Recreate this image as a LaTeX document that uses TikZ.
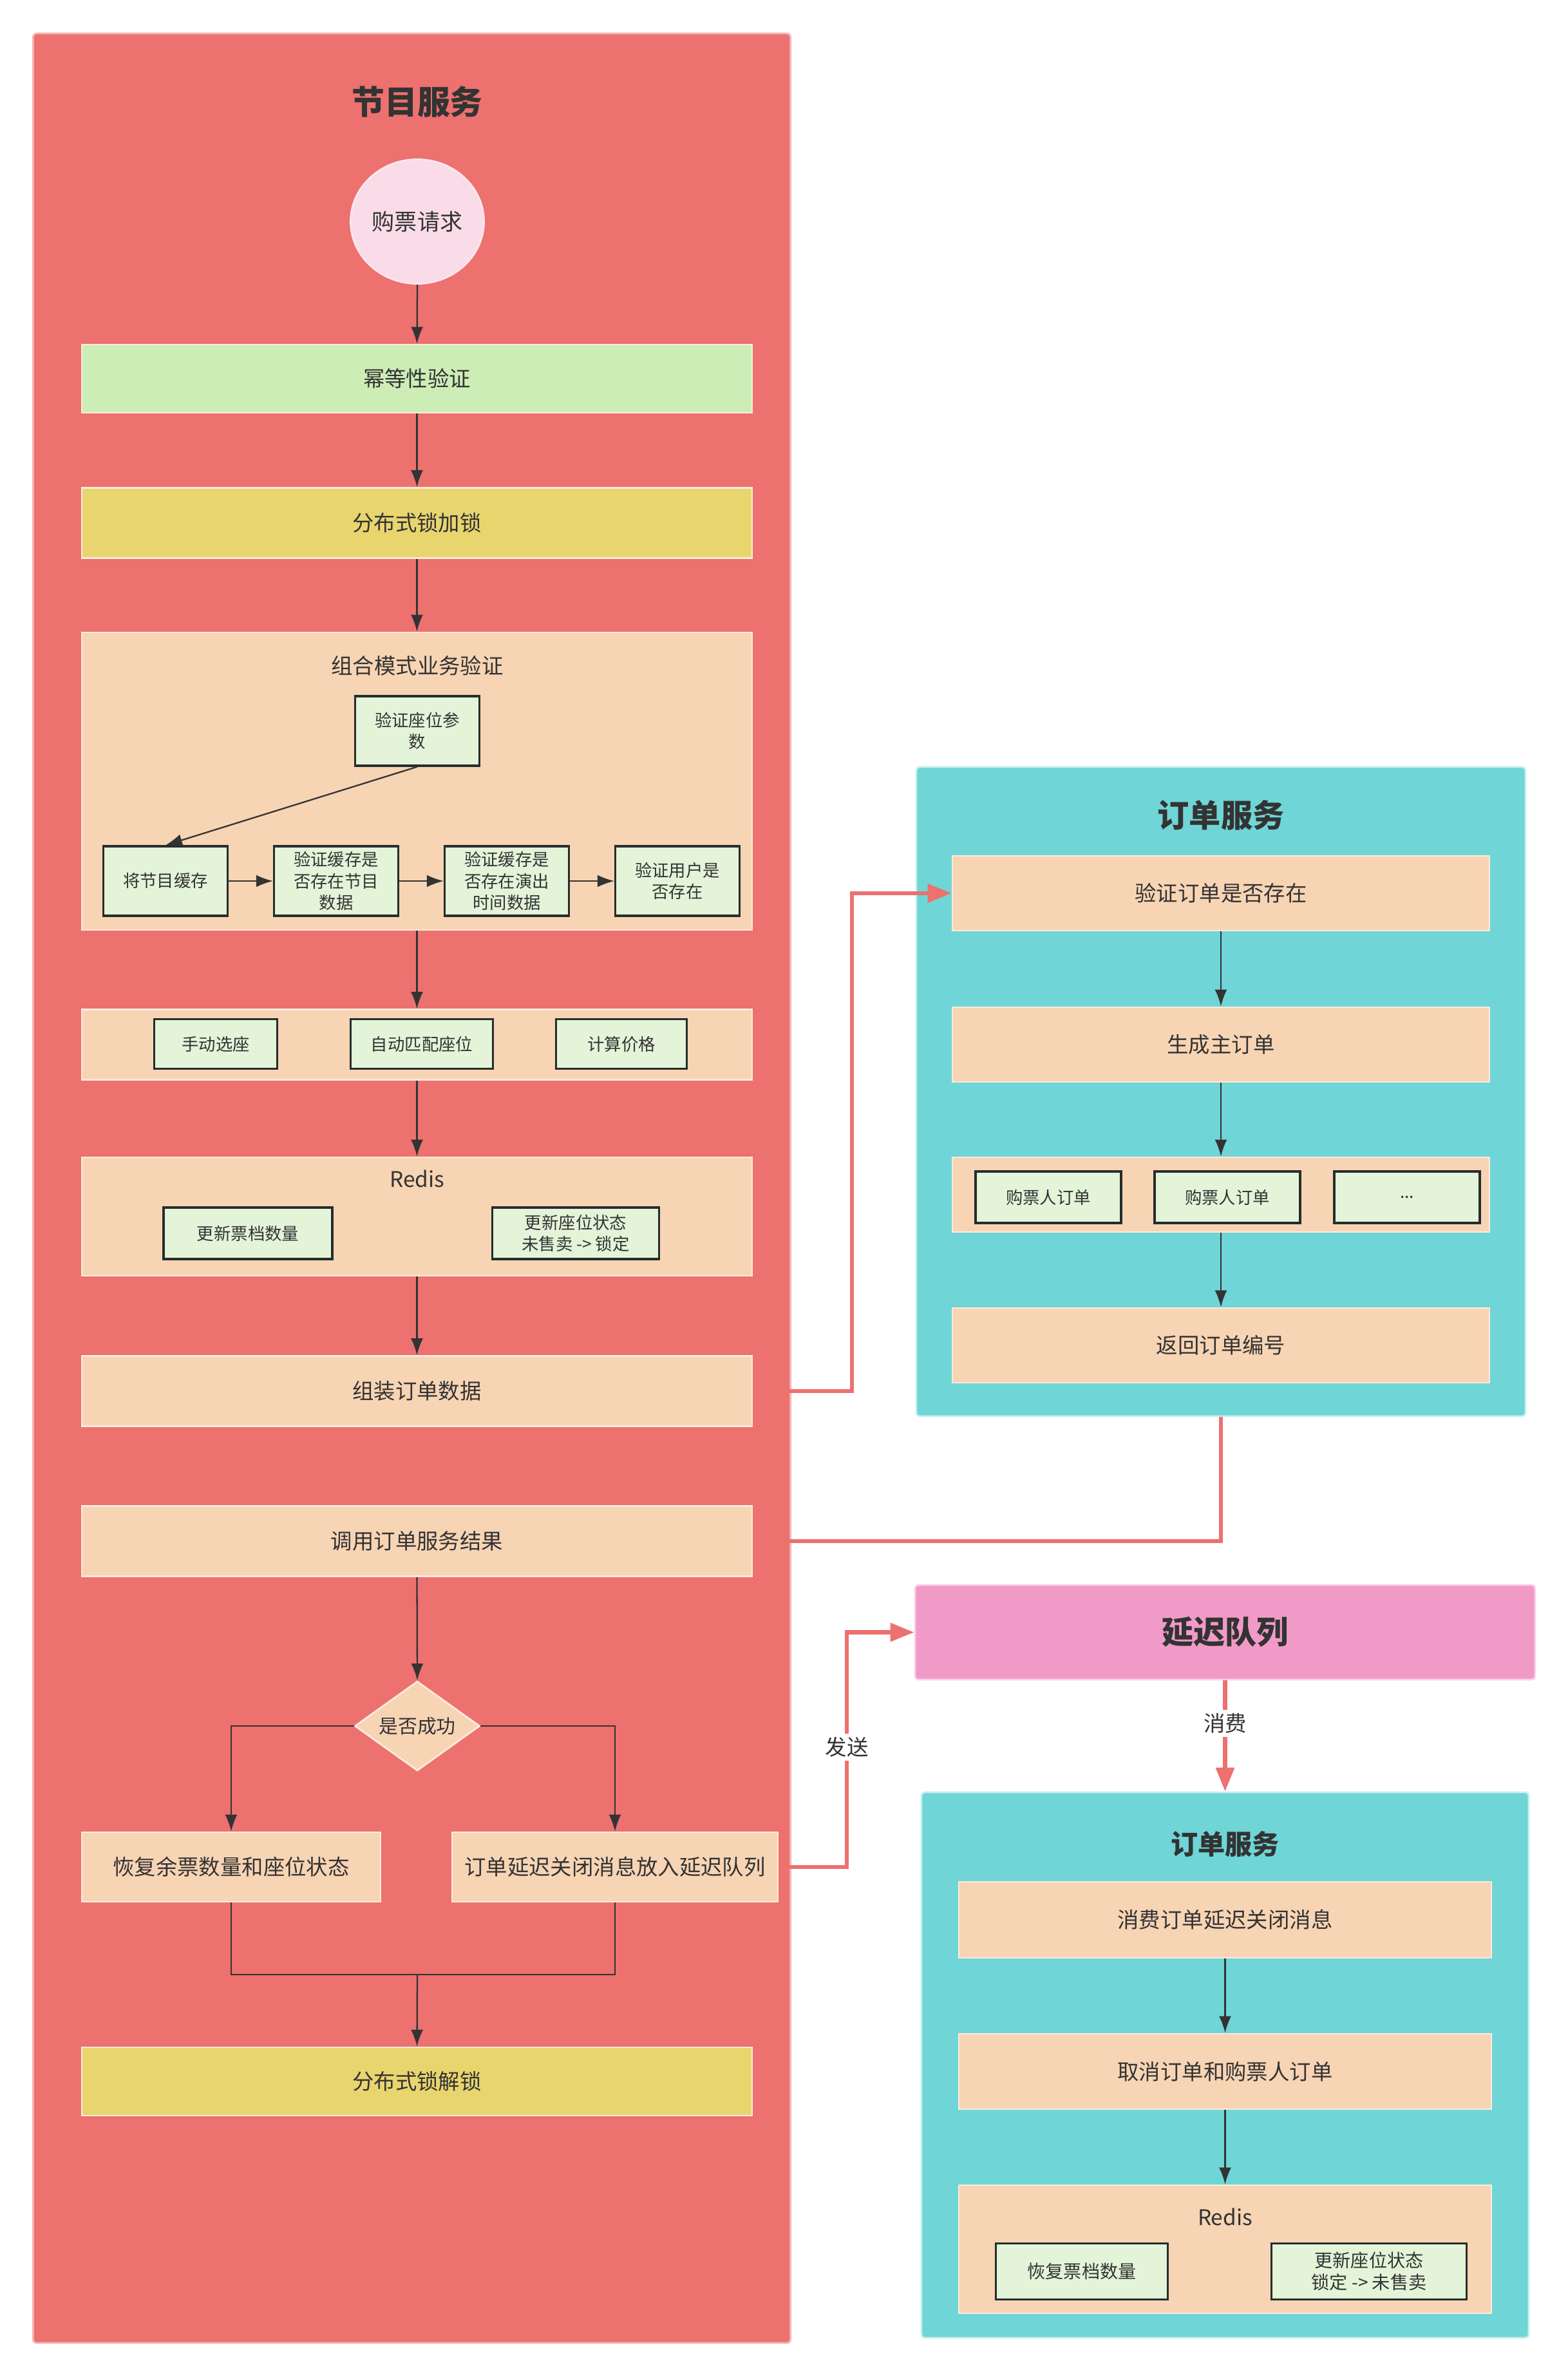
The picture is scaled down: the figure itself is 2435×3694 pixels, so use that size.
\documentclass[tikz,border=0pt]{standalone}
\usepackage{fontspec}
\setmainfont{Noto Sans CJK SC}
\usetikzlibrary{shapes.geometric,arrows.meta,calc}
\definecolor{redP}{HTML}{EC716F}
\definecolor{redB}{HTML}{F2B3B1}
\definecolor{tealP}{HTML}{6FD5D6}
\definecolor{tealB}{HTML}{C6EFEF}
\definecolor{peach}{HTML}{F7D4B4}
\definecolor{peachB}{HTML}{FCEBDD}
\definecolor{greenL}{HTML}{CDEDB6}
\definecolor{greenI}{HTML}{E3F4D9}
\definecolor{yellowL}{HTML}{E9D56E}
\definecolor{pinkE}{HTML}{F9DCE8}
\definecolor{pinkQ}{HTML}{F19AC8}
\definecolor{pinkQB}{HTML}{F9D2E6}
\definecolor{txt}{HTML}{333333}
\definecolor{lineC}{HTML}{333333}
\definecolor{boxB}{HTML}{262D2D}
\tikzset{
  every node/.style={text=txt},
  panel/.style={draw, line width=0.8pt, rounded corners=0.5mm, inner sep=0},
  bigbox/.style={draw=peachB, line width=0.8pt, inner sep=0, font=\fontsize{9.5}{12}\selectfont},
  pbox/.style={bigbox, fill=peach},
  ibox/.style={draw=boxB, line width=0.9pt, fill=greenI, inner sep=0, align=center, font=\fontsize{7.5}{9.5}\selectfont},
  ttlA/.style={font=\fontsize{14.5}{17}\selectfont\bfseries},
  ttlB/.style={font=\fontsize{9.5}{12}\selectfont},
  arr/.style={draw=lineC, line width=0.65pt, -{Latex[length=2.6mm,width=1.9mm]}},
  plain/.style={draw=lineC, line width=0.65pt},
  redline/.style={draw=redP, line width=1.8pt},
  redarr/.style={redline, -{Triangle[length=3.7mm,width=2.8mm]}},
  lbl/.style={fill=white, inner sep=1.5pt, font=\fontsize{9.5}{12}\selectfont}
}
\begin{document}
\begin{tikzpicture}[x=0.1mm,y=-0.1mm]
\useasboundingbox (0,0) rectangle (2435,3694);
\fill[white] (0,0) rectangle (2435,3694);

% ===== panels =====
\node[panel, fill=redP, draw=redB, minimum width=117.6mm, minimum height=358.6mm] (lp) at (639.5,1845) {};
\node[panel, fill=tealP, draw=tealB, minimum width=94.6mm, minimum height=100.8mm] (rp1) at (1896,1695) {};
\node[panel, fill=pinkQ, draw=pinkQB, minimum width=96.3mm, minimum height=14.7mm, font=\fontsize{14}{17}\selectfont\bfseries] (qbox) at (1902.5,2534.5) {延迟队列};
\node[panel, fill=tealP, draw=tealB, minimum width=94.3mm, minimum height=84.7mm] (rp2) at (1902.5,3206.5) {};

% ===== left: 节目服务 =====
\node[ttlA] (t1) at (648,158) {节目服务};
\node[ellipse, fill=pinkE, draw=pinkE!70!white, line width=0.8pt, minimum width=20.7mm, minimum height=19.3mm, inner sep=0, font=\fontsize{10}{12}\selectfont] (req) at (648,344) {购票请求};
\node[bigbox, fill=greenL, minimum width=104.1mm, minimum height=10.6mm] (idem) at (647.5,588) {幂等性验证};
\node[bigbox, fill=yellowL, minimum width=104.1mm, minimum height=10.9mm] (lock) at (647.5,812) {分布式锁加锁};

\node[pbox, minimum width=104.1mm, minimum height=46.2mm] (combo) at (647.5,1213) {};
\node[ttlB] (combot) at (648,1034) {组合模式业务验证};
\node[ibox, minimum width=19.3mm, minimum height=10.8mm] (seatp) at (648,1135) {验证座位参\\数};
\node[ibox, minimum width=19.3mm, minimum height=10.8mm] (c1) at (257,1368) {将节目缓存};
\node[ibox, minimum width=19.3mm, minimum height=10.8mm] (c2) at (522,1368) {验证缓存是\\否存在节目\\数据};
\node[ibox, minimum width=19.3mm, minimum height=10.8mm] (c3) at (787,1368) {验证缓存是\\否存在演出\\时间数据};
\node[ibox, minimum width=19.3mm, minimum height=10.8mm] (c4) at (1052,1368) {验证用户是\\否存在};

\node[pbox, minimum width=104.1mm, minimum height=10.9mm] (sel) at (647.5,1622) {};
\node[ibox, minimum width=19.1mm, minimum height=7.7mm] (s1) at (335,1621) {手动选座};
\node[ibox, minimum width=22.1mm, minimum height=7.7mm] (s2) at (655,1621) {自动匹配座位};
\node[ibox, minimum width=20.3mm, minimum height=7.7mm] (s3) at (965,1621) {计算价格};

\node[pbox, minimum width=104.1mm, minimum height=18.4mm] (redis) at (647.5,1889) {};
\node[ttlB] (redist) at (648,1830) {Redis};
\node[ibox, minimum width=26.2mm, minimum height=8.0mm] (r1) at (385,1915) {更新票档数量};
\node[ibox, minimum width=25.9mm, minimum height=8.0mm] (r2) at (894,1915) {更新座位状态\\未售卖 -> 锁定};

\node[pbox, minimum width=104.1mm, minimum height=10.9mm] (assemble) at (647.5,2160) {组装订单数据};
\node[pbox, minimum width=104.1mm, minimum height=10.9mm] (call) at (647.5,2393) {调用订单服务结果};
\node[diamond, fill=peach, draw=peachB, line width=0.8pt, minimum width=19.4mm, minimum height=13.9mm, shape aspect=1.4, inner sep=0, font=\fontsize{8.5}{10}\selectfont] (dec) at (648,2680) {是否成功};
\node[pbox, minimum width=46.4mm, minimum height=10.8mm] (restore) at (359,2899) {恢复余票数量和座位状态};
\node[pbox, minimum width=50.6mm, minimum height=10.8mm] (delayput) at (955,2899) {订单延迟关闭消息放入延迟队列};
\coordinate (merge) at (648,3066);
\node[bigbox, fill=yellowL, minimum width=104.1mm, minimum height=10.6mm] (unlock) at (647.5,3232) {分布式锁解锁};

% left arrows
\draw[arr] (req.south) -- (idem.north);
\draw[arr] (idem.south) -- (lock.north);
\draw[arr] (lock.south) -- (combo.north);
\draw[arr] (seatp.south) -- (c1.north);
\draw[arr] (c1.east) -- (c2.west);
\draw[arr] (c2.east) -- (c3.west);
\draw[arr] (c3.east) -- (c4.west);
\draw[arr] (combo.south) -- (sel.north);
\draw[arr] (sel.south) -- (redis.north);
\draw[arr] (redis.south) -- (assemble.north);
\draw[arr] (call.south) -- (dec.north);
\draw[arr] (dec.west) -| (restore.north);
\draw[arr] (dec.east) -| (delayput.north);
\draw[plain] (restore.south) |- (merge) -| (delayput.south);
\draw[arr] (merge) -- (unlock.north);

% ===== right: 订单服务 1 =====
\node[font=\fontsize{14}{17}\selectfont\bfseries] (t2) at (1896,1266) {订单服务};
\node[pbox, minimum width=83.4mm, minimum height=11.6mm] (verify) at (1896,1387) {验证订单是否存在};
\node[pbox, minimum width=83.4mm, minimum height=11.6mm] (genmain) at (1896,1622) {生成主订单};
\node[pbox, minimum width=83.4mm, minimum height=11.6mm] (buyers) at (1896,1855) {};
\node[ibox, minimum width=22.6mm, minimum height=8.0mm] (b1) at (1628,1859) {购票人订单};
\node[ibox, minimum width=22.6mm, minimum height=8.0mm] (b2) at (1906,1859) {购票人订单};
\node[ibox, minimum width=22.6mm, minimum height=8.0mm] (b3) at (2185,1859) {...};
\node[pbox, minimum width=83.4mm, minimum height=11.6mm] (ret) at (1896,2089) {返回订单编号};
\draw[arr] (verify.south) -- (genmain.north);
\draw[arr] (genmain.south) -- (buyers.north);
\draw[arr] (buyers.south) -- (ret.north);

% ===== right: 订单服务 2 =====
\node[font=\fontsize{12}{15}\selectfont\bfseries] (t3) at (1902.5,2863) {订单服务};
\node[pbox, minimum width=82.7mm, minimum height=11.8mm] (consume) at (1902.5,2981) {消费订单延迟关闭消息};
\node[pbox, minimum width=82.7mm, minimum height=11.7mm] (cancel) at (1902.5,3216.5) {取消订单和购票人订单};
\node[pbox, minimum width=82.7mm, minimum height=19.9mm] (redis2) at (1902.5,3492.5) {};
\node[ttlB] (redis2t) at (1902.5,3442) {Redis};
\node[ibox, minimum width=26.7mm, minimum height=8.7mm, font=\fontsize{8}{10}\selectfont] (q1) at (1680,3527) {恢复票档数量};
\node[ibox, minimum width=30.3mm, minimum height=8.7mm, font=\fontsize{8}{9.6}\selectfont] (q2) at (2126,3527) {更新座位状态\\锁定 -> 未售卖};
\draw[arr] (consume.south) -- (cancel.north);
\draw[arr] (cancel.south) -- (redis2.north);

% ===== red connectors =====
\coordinate (bendA) at (1323,0);
\coordinate (bendB) at (1315,0);
\draw[redarr] (assemble.east) -| (bendA |- verify.west) -- (verify.west);
\draw[redline] (rp1.south) |- (call.east);
\draw[redarr] (delayput.east) -| (bendB |- qbox.west) -- (qbox.west);
\node[lbl] (send) at (1315,2713) {发送};
\draw[redarr] (qbox.south) -- (rp2.north);
\node[lbl] (cons) at (1902.5,2676) {消费};
\end{tikzpicture}
\end{document}
